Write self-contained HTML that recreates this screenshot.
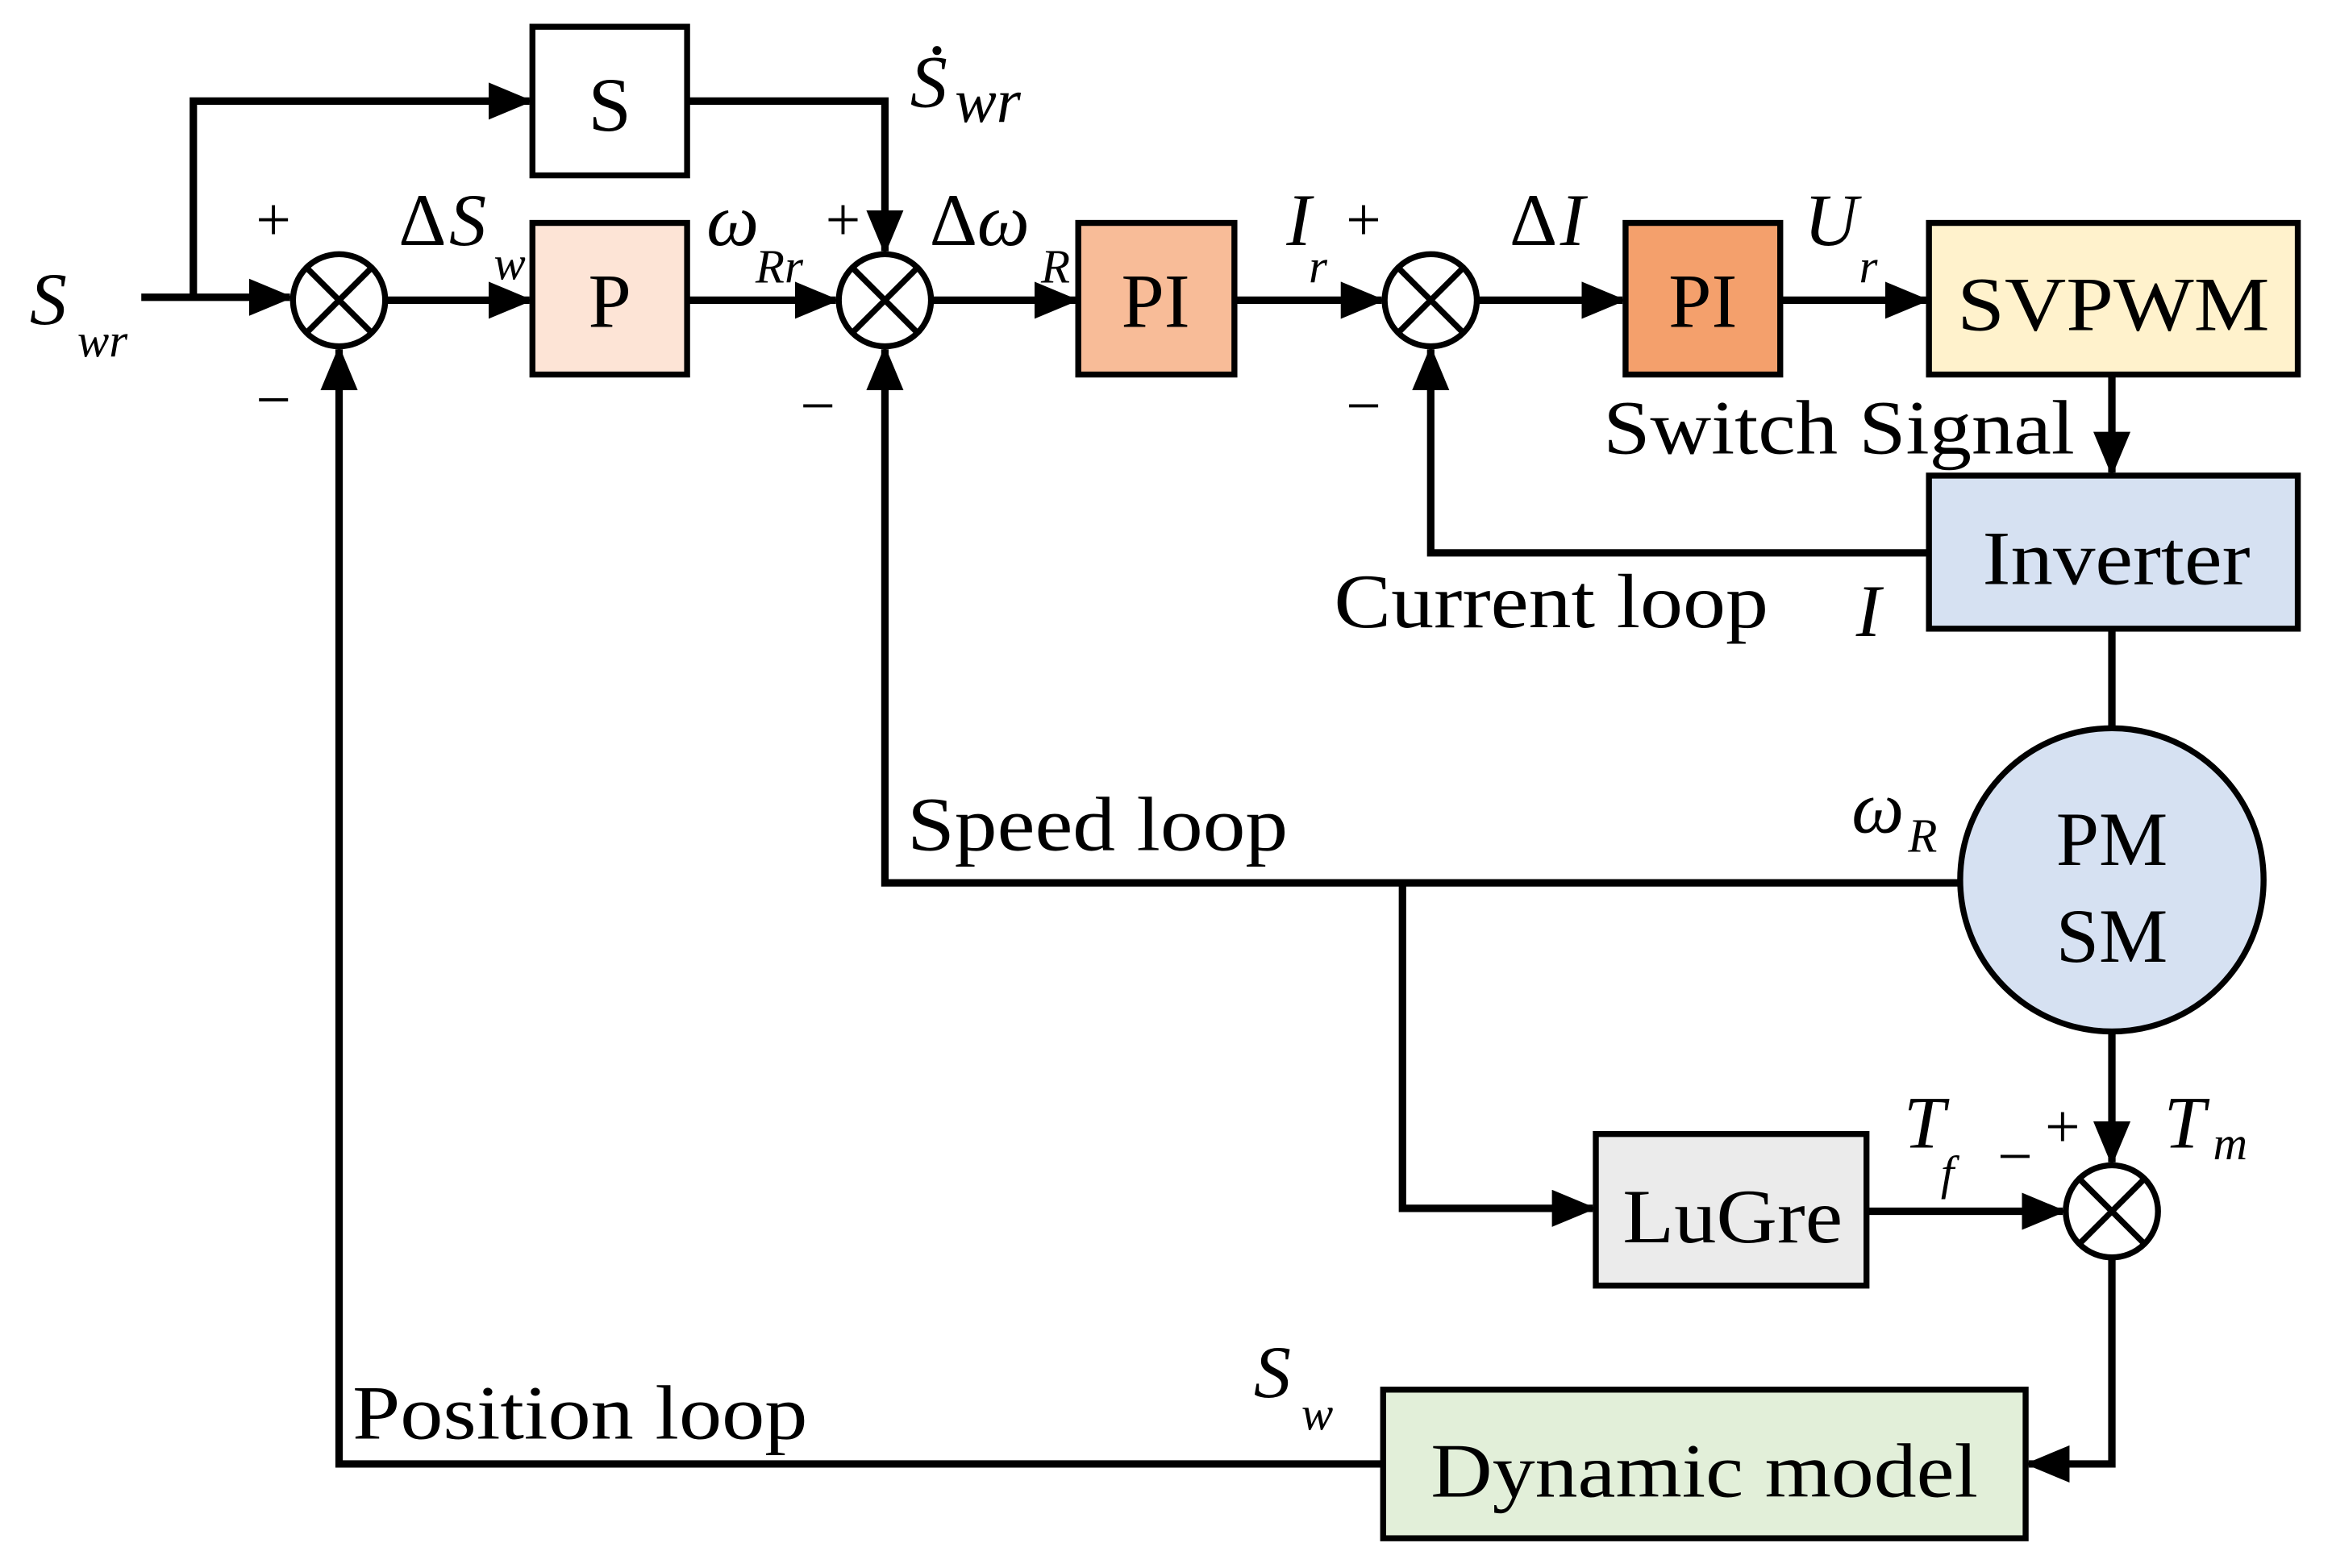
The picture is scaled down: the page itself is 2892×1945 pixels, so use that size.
<!DOCTYPE html>
<html><head><meta charset="utf-8"><style>
html,body{margin:0;padding:0;background:#fff;}
svg{display:block;}
text{font-family:"Liberation Serif",serif;fill:#000;}
.it{font-style:italic;}
</style></head><body>
<svg width="2892" height="1945" viewBox="0 0 1568 1055" preserveAspectRatio="none" xmlns="http://www.w3.org/2000/svg">
<defs>
<marker id="a" markerWidth="6" markerHeight="5" refX="5.5" refY="2.5" orient="auto" markerUnits="strokeWidth">
<path d="M0,0 L6,2.5 L0,5 Z" fill="#000"/>
</marker>
</defs>
<g stroke="#000" stroke-width="5" fill="none">
<path d="M95,200 H195" marker-end="url(#a)"/>
<path d="M130,200 V68 H356" marker-end="url(#a)"/>
<path d="M462,68 H595 V169" marker-end="url(#a)"/>
<path d="M259,202 H356" marker-end="url(#a)"/>
<path d="M462,202 H562" marker-end="url(#a)"/>
<path d="M626,202 H723" marker-end="url(#a)"/>
<path d="M830,202 H929" marker-end="url(#a)"/>
<path d="M993,202 H1091" marker-end="url(#a)"/>
<path d="M1197,202 H1295" marker-end="url(#a)"/>
<path d="M1420,252 V318" marker-end="url(#a)"/>
<path d="M1297,372 H962 V235" marker-end="url(#a)"/>
<path d="M1420,423 V490"/>
<path d="M1318,594 H595 V235" marker-end="url(#a)"/>
<path d="M943,594 V813 H1071" marker-end="url(#a)"/>
<path d="M1420,694 V782" marker-end="url(#a)"/>
<path d="M1255,815 H1387" marker-end="url(#a)"/>
<path d="M1420,846 V985 H1364" marker-end="url(#a)"/>
<path d="M930,985 H228 V235" marker-end="url(#a)"/>
</g>
<g stroke="#000" stroke-width="4">
<rect x="358" y="18" width="104" height="100" fill="#fff"/>
<rect x="358" y="150" width="104" height="102" fill="#fde4d6"/>
<rect x="725" y="150" width="105" height="102" fill="#f8bc98"/>
<rect x="1093" y="150" width="104" height="102" fill="#f4a06c"/>
<rect x="1297" y="150" width="248" height="102" fill="#fff2cc"/>
<rect x="1297" y="320" width="248" height="103" fill="#d6e1f2"/>
<circle cx="1420" cy="592" r="102" fill="#d6e1f2"/>
<rect x="1073" y="763" width="182" height="102" fill="#ebebeb"/>
<rect x="930" y="935" width="432" height="100" fill="#e2efd9"/>
</g>
<g stroke="#000" stroke-width="4" fill="#fff">
<circle cx="228" cy="202" r="31"/><path d="M206,180 L250,224 M250,180 L206,224"/>
<circle cx="595" cy="202" r="31"/><path d="M573,180 L617,224 M617,180 L573,224"/>
<circle cx="962" cy="202" r="31"/><path d="M940,180 L984,224 M984,180 L940,224"/>
<circle cx="1420" cy="815" r="31"/><path d="M1398,793 L1442,837 M1442,793 L1398,837"/>
</g>
<g font-size="52" text-anchor="middle">
<text x="410" y="88">S</text>
<text x="410" y="220">P</text>
<text x="777" y="220">PI</text>
<text x="1145" y="220">PI</text>
<text x="1421" y="222" textLength="210" lengthAdjust="spacingAndGlyphs">SVPWM</text>
<text x="1423" y="393" textLength="180" lengthAdjust="spacingAndGlyphs">Inverter</text>
<text x="1420" y="582">PM</text>
<text x="1420" y="647">SM</text>
<text x="1165" y="836" textLength="148" lengthAdjust="spacingAndGlyphs">LuGre</text>
<text x="1146" y="1007" textLength="368" lengthAdjust="spacingAndGlyphs">Dynamic model</text>
</g>
<g font-size="52">
<text x="1078" y="305" textLength="317" lengthAdjust="spacingAndGlyphs">Switch Signal</text>
<text x="897" y="422" textLength="292" lengthAdjust="spacingAndGlyphs">Current loop</text>
<text x="610" y="572" textLength="256" lengthAdjust="spacingAndGlyphs">Speed loop</text>
<text x="237" y="968" textLength="306" lengthAdjust="spacingAndGlyphs">Position loop</text>
</g>
<g font-size="50" class="it">
<text x="20" y="218">S</text><text x="52" y="240" font-size="32">wr</text>
<text x="612" y="72">S</text><text x="642" y="82" font-size="42">wr</text>
<circle cx="630" cy="34" r="3" fill="#000"/>
<text x="268" y="165" font-style="normal">Δ</text><text x="302" y="165">S</text><text x="332" y="188" font-size="32">w</text>
<text x="475" y="165">ω</text><text x="508" y="190" font-size="32">Rr</text>
<text x="625" y="165" font-style="normal">Δ</text><text x="657" y="165">ω</text><text x="700" y="190" font-size="32">R</text>
<text x="865" y="165">I</text><text x="880" y="190" font-size="32">r</text>
<text x="1015" y="165" font-style="normal">Δ</text><text x="1049" y="165">I</text>
<text x="1213" y="165">U</text><text x="1250" y="190" font-size="32">r</text>
<text x="1248" y="428">I</text>
<text x="1245" y="560">ω</text><text x="1283" y="573" font-size="32">R</text>
<text x="1280" y="772">T</text><text x="1305" y="800" font-size="32">f</text>
<text x="1455" y="772">T</text><text x="1488" y="780" font-size="32">m</text>
<text x="843" y="940">S</text><text x="875" y="962" font-size="32">w</text>
</g>
<g font-size="42">
<text x="172" y="162">+</text><text x="172" y="283">−</text>
<text x="555" y="162">+</text><text x="538" y="287">−</text>
<text x="905" y="162">+</text><text x="905" y="287">−</text>
<text x="1375" y="772">+</text><text x="1343" y="792">−</text>
</g>
</svg>
</body></html>
